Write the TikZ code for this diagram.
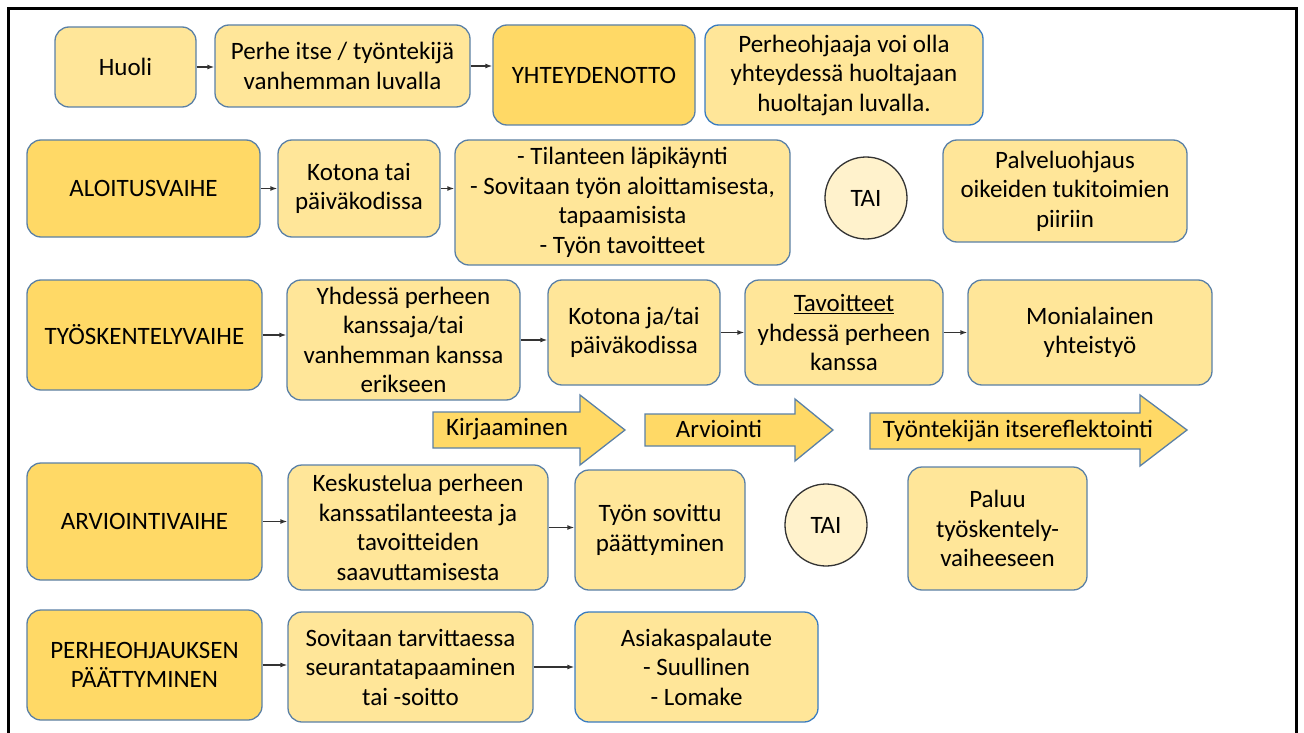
\documentclass[tikz,border=0pt]{standalone}
\usepackage{fontspec}
\setmainfont{Carlito}
\usepackage{tikz}
\usetikzlibrary{arrows.meta}
\usepackage{xcolor}
\definecolor{lightgold}{HTML}{FFE699}
\definecolor{darkgold}{HTML}{FFD966}
\definecolor{palegold}{HTML}{FFF2CC}
\definecolor{boxline}{HTML}{5A80A6}
\definecolor{blueline}{HTML}{3A7CC0}
\tikzstyle{box}=[draw=boxline,fill=lightgold,line width=1.3pt,rounded corners=14pt,
  align=center,inner sep=0pt,font=\fontsize{25}{29.5}\selectfont]
\tikzstyle{phase}=[box,fill=darkgold]
\tikzstyle{bluebox}=[box,draw=blueline]
\tikzstyle{orcircle}=[draw=black!80,fill=palegold,line width=1.3pt,circle,
  minimum size=82pt,inner sep=0pt,font=\fontsize{25}{29.5}\selectfont]
\tikzstyle{link}=[-{Latex[length=7pt,width=5pt]},line width=1.4pt,black!80]
\tikzstyle{bigarrow}=[draw=boxline,fill=darkgold,line width=1.3pt]
\tikzstyle{arrowtext}=[font=\fontsize{25}{29.5}\selectfont,inner sep=0pt]

\begin{document}
\begin{tikzpicture}[x=1pt,y=-1pt]
  \useasboundingbox (0,0) rectangle (1304,733);

  % FRAME
  \draw[line width=3pt] (8,733) -- (8,9) -- (1296,9) -- (1296,733);

  % YHTEYDENOTTO
  \node[box,minimum width=141pt,minimum height=80pt] (huoli) at (125.5,67) {Huoli};
  \node[box,minimum width=255pt,minimum height=82pt] (perhe) at (342.5,66)
    {Perhe itse / työntekijä\\vanhemman luvalla};
  \node[phase,minimum width=202pt,minimum height=100pt] (yht) at (594,75) {YHTEYDENOTTO};
  \node[bluebox,minimum width=278pt,minimum height=100pt] (ohjaaja) at (844,75)
    {Perheohjaaja voi olla\\yhteydessä huoltajaan\\huoltajan luvalla.};

  % ALOITUSVAIHE
  \node[phase,minimum width=233pt,minimum height=97pt] (aloitus) at (143.5,188.5) {ALOITUSVAIHE};
  \node[box,minimum width=162pt,minimum height=97pt] (kotona) at (359,188.5)
    {Kotona tai\\päiväkodissa};
  \node[box,minimum width=335pt,minimum height=125pt] (tilanne) at (622.5,202.5)
    {- Tilanteen läpikäynti\\- Sovitaan työn aloittamisesta,\\tapaamisista\\- Työn tavoitteet};
  \node[orcircle] (taiA) at (866,198) {TAI};
  \node[box,minimum width=244pt,minimum height=102pt] (palvelu) at (1065,191)
    {Palveluohjaus\\oikeiden tukitoimien\\piiriin};

  % TYÖSKENTELYVAIHE
  \node[phase,minimum width=235pt,minimum height=110pt] (tyosk) at (144.5,335) {TYÖSKENTELYVAIHE};
  \node[box,minimum width=233pt,minimum height=120pt] (yhdessa) at (403.5,340)
    {Yhdessä perheen\\kanssaja/tai\\vanhemman kanssa\\erikseen};
  \node[box,minimum width=172pt,minimum height=105pt] (kotonajatai) at (634,332.5)
    {Kotona ja/tai\\päiväkodissa};
  \node[box,minimum width=198pt,minimum height=105pt] (tavoit) at (844,332.5)
    {\underline{Tavoitteet}\\yhdessä perheen\\kanssa};
  \node[box,minimum width=244pt,minimum height=105pt] (moniala) at (1090,332.5)
    {Monialainen\\yhteistyö};

  % BIG ARROWS
  \draw[bigarrow] (433,412) -- (580,412) -- (580,395) -- (625,430)
    -- (580,465) -- (580,448) -- (433,448) -- cycle;
  \node[arrowtext] (kirj) at (507,429) {Kirjaaminen};
  \draw[bigarrow] (645,414) -- (795,414) -- (795,399) -- (833,430)
    -- (795,461) -- (795,446) -- (645,446) -- cycle;
  \node[arrowtext] (arvio) at (719,429) {Arviointi};
  \draw[bigarrow] (870,413) -- (1140,413) -- (1140,395) -- (1187,430)
    -- (1140,466) -- (1140,449) -- (870,449) -- cycle;
  \node[arrowtext] (reflekt) at (1018,431) {Työntekijän itsereflektointi};

  % ARVIOINTIVAIHE
  \node[phase,minimum width=235pt,minimum height=117pt] (arvioint) at (144.5,521.5) {ARVIOINTIVAIHE};
  \node[box,minimum width=260pt,minimum height=125pt] (keskust) at (418,527.5)
    {Keskustelua perheen\\kanssatilanteesta ja\\tavoitteiden\\saavuttamisesta};
  \node[box,minimum width=170pt,minimum height=120pt] (sovittu) at (660,530)
    {Työn sovittu\\päättyminen};
  \node[orcircle] (taiB) at (826,525) {TAI};
  \node[box,minimum width=179pt,minimum height=123pt] (paluu) at (997.5,528.5)
    {Paluu\\työskentely-\\vaiheeseen};

  % PÄÄTTYMINEN
  \node[phase,minimum width=235pt,minimum height=110pt] (paattym) at (144.5,665)
    {PERHEOHJAUKSEN\\PÄÄTTYMINEN};
  \node[box,minimum width=245pt,minimum height=110pt] (sovitaan) at (410.5,667)
    {Sovitaan tarvittaessa\\seurantatapaaminen\\tai -soitto};
  \node[bluebox,minimum width=243pt,minimum height=110pt] (palaute) at (696.5,667)
    {Asiakaspalaute\\- Suullinen\\- Lomake};

  % LINKS
  \draw[link] (huoli.east) -- (huoli.east -| perhe.west);
  \draw[link] (perhe.east) -- (perhe.east -| yht.west);
  \draw[link] (aloitus.east) -- (aloitus.east -| kotona.west);
  \draw[link] (kotona.east) -- (kotona.east -| tilanne.west);
  \draw[link] (tyosk.east) -- (tyosk.east -| yhdessa.west);
  \draw[link] (yhdessa.east) -- (yhdessa.east -| kotonajatai.west);
  \draw[link] (kotonajatai.east) -- (kotonajatai.east -| tavoit.west);
  \draw[link] (tavoit.east) -- (tavoit.east -| moniala.west);
  \draw[link] (arvioint.east) -- (arvioint.east -| keskust.west);
  \draw[link] (keskust.east) -- (keskust.east -| sovittu.west);
  \draw[link] (paattym.east) -- (paattym.east -| sovitaan.west);
  \draw[link] (sovitaan.east) -- (sovitaan.east -| palaute.west);

\end{tikzpicture}
\end{document}
